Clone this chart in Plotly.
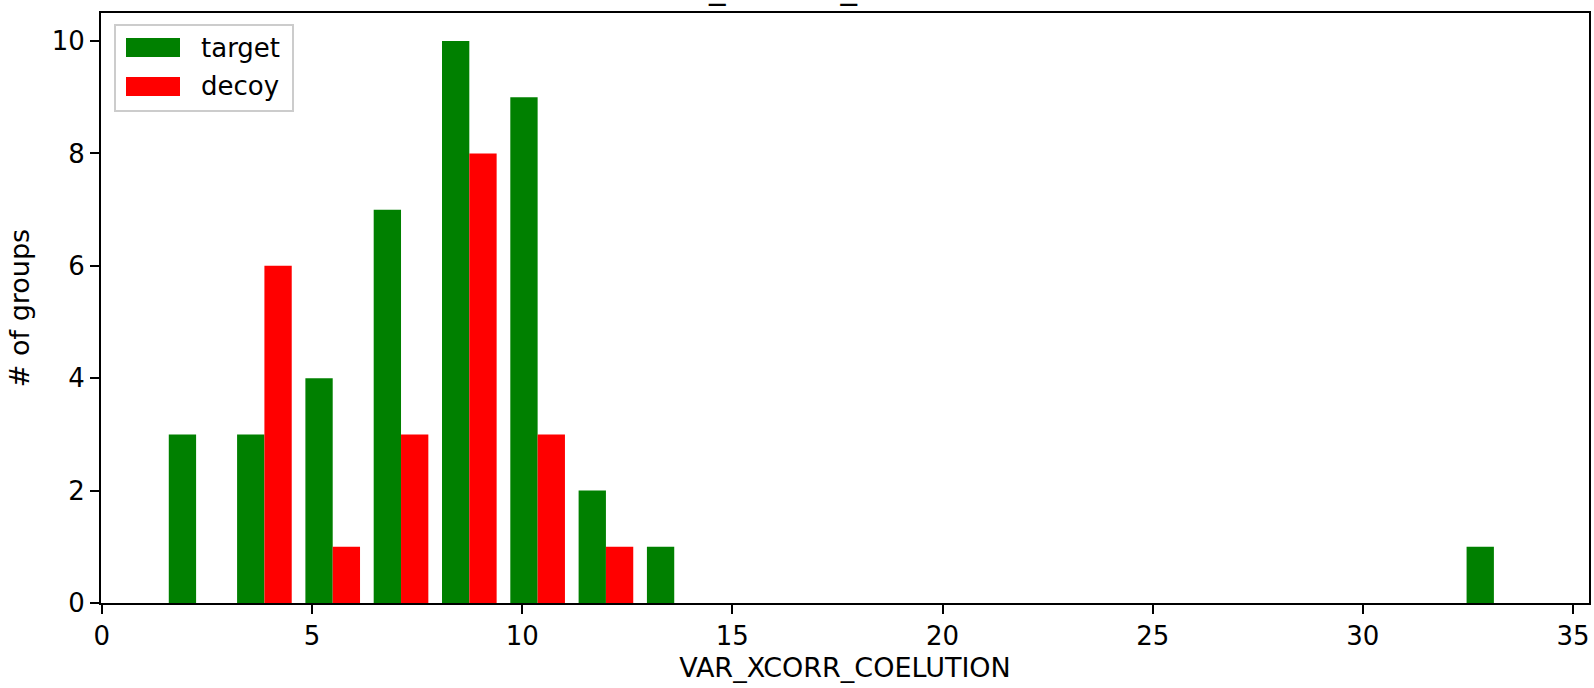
import numpy as np
import plotly.graph_objects as go

# ---- data ----
bin_lo = 1.43
bin_hi = 33.93
n_bins = 20
target_counts = [3, 3, 4, 7, 10, 9, 2, 1, 0, 0, 0, 0, 0, 0, 0, 0, 0, 0, 0, 1]
decoy_counts = [0, 6, 1, 3, 8, 3, 1, 0, 0, 0, 0, 0, 0, 0, 0, 0, 0, 0, 0, 0]
x_ticks = [0, 5, 10, 15, 20, 25, 30, 35]
y_ticks = [0, 2, 4, 6, 8, 10]
series_names = ["target", "decoy"]
series_colors = ["#008000", "#ff0000"]
title_text = "VAR_XCORR_COELUTION"
x_label = "VAR_XCORR_COELUTION"
y_label = "# of groups"

edges = np.linspace(bin_lo, bin_hi, n_bins + 1)
centers = (edges[:-1] + edges[1:]) / 2

FONT = "DejaVu Sans"
FS = 26
FL = 27

fig = go.Figure()
for name, counts, color in zip(series_names, [target_counts, decoy_counts], series_colors):
    fig.add_trace(go.Bar(x=centers, y=counts, name=name, marker=dict(color=color, line=dict(width=0)),
                         showlegend=False, hoverinfo="skip"))

fig.update_layout(
    width=1594, height=688,
    margin=dict(l=101, r=5, t=13, b=85, autoexpand=False),
    paper_bgcolor="white", plot_bgcolor="white",
    barmode="group", bargap=0.2, bargroupgap=0,
    font=dict(family=FONT, size=FS, color="black"),
)
fig.update_xaxes(range=[-0.02, 35.38], tickvals=x_ticks, ticks="outside", ticklen=9, tickwidth=2,
                 tickcolor="black", showline=True, linecolor="black", linewidth=2, mirror=True,
                 showgrid=False, zeroline=False, tickfont=dict(size=FS), automargin=False,
                 title=dict(text=x_label, font=dict(size=FL), standoff=8))
fig.update_yaxes(range=[0, 10.5], tickvals=y_ticks, ticks="outside", ticklen=9, tickwidth=2,
                 tickcolor="black", showline=True, linecolor="black", linewidth=2, mirror=True,
                 showgrid=False, zeroline=False, tickfont=dict(size=FS), automargin=False,
                 title=dict(text=y_label, font=dict(size=FL), standoff=14))

# clipped title (only underscores visible at top)
fig.add_annotation(text=title_text, xref="paper", yref="paper", x=0.5, y=1, yanchor="bottom",
                   xanchor="center", showarrow=False, yshift=5, font=dict(size=33, family=FONT))

# legend box
pw, ph = 1488.0, 590.0
def px(xp):
    return (xp - 101) / pw
def py(yp):
    return (603 - yp) / ph

fig.add_shape(type="rect", xref="paper", yref="paper", x0=px(115), x1=px(293), y0=py(111), y1=py(25),
              line=dict(color="#cccccc", width=2), fillcolor="rgba(255,255,255,0.8)", layer="above")
for i, (name, color) in enumerate(zip(series_names, series_colors)):
    top = 38 + i * 39
    fig.add_shape(type="rect", xref="paper", yref="paper", x0=px(126), x1=px(180), y0=py(top + 19),
                  y1=py(top), line=dict(width=0), fillcolor=color, layer="above")
    fig.add_annotation(text=name, xref="paper", yref="paper", x=px(199), y=py(top + 9.5), xanchor="left",
                       yanchor="middle", showarrow=False, font=dict(size=FS, family=FONT))

fig.write_html("out.html", config={"displayModeBar": False},
               post_script="document.body.style.margin='0px';document.body.style.overflow='hidden';")
